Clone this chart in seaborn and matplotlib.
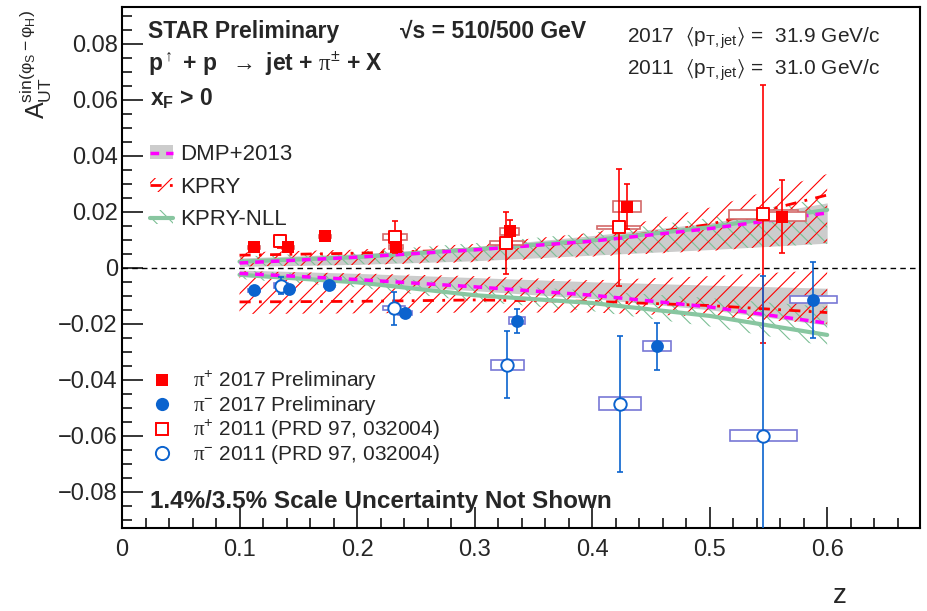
import numpy as np
import pandas as pd
import seaborn as sns
import matplotlib
matplotlib.use("Agg")
import matplotlib.pyplot as plt
from matplotlib.lines import Line2D
from matplotlib.patches import Patch
from matplotlib.ticker import MultipleLocator, FuncFormatter

# ---------------- data ----------------
# theory curves (z grid)
zt = [0.1, 0.2, 0.3, 0.4, 0.5, 0.6]
dmp_pos = [0.0017, 0.0038, 0.0064, 0.0095, 0.0140, 0.0196]
dmp_pos_lo = [0.0005, 0.0012, 0.0025, 0.0045, 0.0065, 0.0088]
dmp_pos_hi = [0.0035, 0.0050, 0.0075, 0.0115, 0.0160, 0.0232]
dmp_neg = [-0.0020, -0.0042, -0.0068, -0.0098, -0.0140, -0.0198]
dmp_neg_hi = [-0.0008, -0.0020, -0.0035, -0.0050, -0.0062, -0.0073]
dmp_neg_lo = [-0.0030, -0.0055, -0.0082, -0.0110, -0.0150, -0.0205]

kpry_pos = [0.0045, 0.0052, 0.0065, 0.0095, 0.0155, 0.0260]
kpry_pos_lo = [0.0005, 0.0010, 0.0020, 0.0040, 0.0060, 0.0090]
kpry_pos_hi = [0.0055, 0.0065, 0.0085, 0.0125, 0.0215, 0.0335]
kpry_neg = [-0.0122, -0.0120, -0.0115, -0.0120, -0.0135, -0.0160]
kpry_neg_hi = [-0.0012, -0.0020, -0.0030, -0.0045, -0.0030, -0.0008]
kpry_neg_lo = [-0.0165, -0.0163, -0.0160, -0.0160, -0.0175, -0.0200]

nll_pos = [0.0022, 0.0038, 0.0066, 0.0098, 0.0145, 0.0207]
nll_pos_lo = [0.0005, 0.0012, 0.0025, 0.0045, 0.0065, 0.0085]
nll_pos_hi = [0.0040, 0.0058, 0.0088, 0.0125, 0.0178, 0.0250]
nll_neg = [-0.0025, -0.0052, -0.0098, -0.0126, -0.0172, -0.0240]
nll_neg_hi = [-0.0010, -0.0030, -0.0058, -0.0082, -0.0108, -0.0140]
nll_neg_lo = [-0.0040, -0.0070, -0.0120, -0.0155, -0.0210, -0.0280]

# pi+ 2017 preliminary
pip17_z = [0.112, 0.141, 0.173, 0.233, 0.330, 0.430, 0.562]
pip17_a = [0.0073, 0.0073, 0.0112, 0.0073, 0.0130, 0.0219, 0.0183]
pip17_stat = [0.0010, 0.0010, 0.0012, 0.0015, 0.0040, 0.0080, 0.0130]
pip17_sysz = [0.005, 0.005, 0.005, 0.006, 0.008, 0.012, 0.020]
pip17_sysa = [0.0005, 0.0005, 0.0006, 0.0007, 0.0012, 0.0021, 0.0015]

# pi- 2017 preliminary
pim17_z = [0.112, 0.142, 0.1765, 0.241, 0.336, 0.455, 0.588]
pim17_a = [-0.0080, -0.0076, -0.0061, -0.0162, -0.0189, -0.0281, -0.0114]
pim17_stat = [0.0010, 0.0010, 0.0012, 0.0015, 0.0043, 0.0085, 0.0136]
pim17_sysz = [0.005, 0.005, 0.005, 0.006, 0.007, 0.012, 0.020]
pim17_sysa = [0.0005, 0.0005, 0.0006, 0.0007, 0.0012, 0.0018, 0.0013]

# pi+ 2011 (PRD 97, 032004)
pip11_z = [0.1345, 0.2323, 0.327, 0.4225, 0.5458]
pip11_a = [0.0094, 0.0110, 0.0088, 0.0144, 0.0192]
pip11_stat = [0.0024, 0.0058, 0.0110, 0.0210, 0.0460]
pip11_sysz = [0.005, 0.010, 0.014, 0.018, 0.029]
pip11_sysa = [0.0012, 0.0009, 0.0008, 0.0007, 0.0016]

# pi- 2011 (PRD 97, 032004)
pim11_z = [0.135, 0.2315, 0.3277, 0.424, 0.5455]
pim11_a = [-0.0064, -0.0144, -0.0346, -0.0486, -0.0600]
pim11_stat = [0.0030, 0.0059, 0.0121, 0.0243, 0.0570]
pim11_sysz = [0.006, 0.009, 0.014, 0.018, 0.0285]
pim11_sysa = [0.0010, 0.0008, 0.0018, 0.0023, 0.0020]

xticks = [0, 0.1, 0.2, 0.3, 0.4, 0.5, 0.6]
yticks = [-0.08, -0.06, -0.04, -0.02, 0, 0.02, 0.04, 0.06, 0.08]

# ---------------- style ----------------
sns.set_style("ticks")
plt.rcParams["font.family"] = ["Liberation Sans", "DejaVu Sans"]
plt.rcParams["mathtext.fontset"] = "custom"
plt.rcParams["mathtext.rm"] = "Liberation Sans"
plt.rcParams["mathtext.it"] = "Liberation Sans:italic"
plt.rcParams["mathtext.bf"] = "Liberation Sans:bold"
plt.rcParams["mathtext.sf"] = "Liberation Serif"
plt.rcParams["mathtext.fallback"] = "stix"
plt.rcParams["hatch.linewidth"] = 0.8
plt.rcParams["axes.unicode_minus"] = True

RED = "#ff0000"
BLUE = "#0b63ce"
RBOX = "#d36a6a"
BBOX = "#7878d6"
GRAY = "#cccccc"
MAG = "#ff00ff"
GREEN = "#88c6a0"
GHATCH = "#7cbf95"

W, H = 928, 611
fig = plt.figure(figsize=(W / 100, H / 100), dpi=100)
ax = fig.add_axes([122 / W, 1 - 528 / H, 798 / W, 521 / H])

def fx(x):
    return x / W

def fy(y):
    return 1 - y / H

# ---------------- theory bands ----------------
ax.fill_between(zt, dmp_pos_lo, dmp_pos_hi, color=GRAY, lw=0, zorder=1)
ax.fill_between(zt, dmp_neg_lo, dmp_neg_hi, color=GRAY, lw=0, zorder=1)
ax.fill_between(zt, nll_pos_lo, nll_pos_hi, facecolor="none", edgecolor=GHATCH,
                hatch="\\\\", lw=0, zorder=2)
ax.fill_between(zt, nll_neg_lo, nll_neg_hi, facecolor="none", edgecolor=GHATCH,
                hatch="\\\\", lw=0, zorder=2)
ax.fill_between(zt, kpry_pos_lo, kpry_pos_hi, facecolor="none", edgecolor=RED,
                hatch="//", lw=0, zorder=2)
ax.fill_between(zt, kpry_neg_lo, kpry_neg_hi, facecolor="none", edgecolor=RED,
                hatch="//", lw=0, zorder=2)

for yv in (kpry_pos, kpry_neg):
    sns.lineplot(x=zt, y=yv, ax=ax, color=RED, lw=2, errorbar=None,
                 linestyle=(0, (4, 3, 1, 3)), zorder=3)
for yv in (nll_pos, nll_neg):
    sns.lineplot(x=zt, y=yv, ax=ax, color=GREEN, lw=3, errorbar=None, zorder=3)
for yv in (dmp_pos, dmp_neg):
    sns.lineplot(x=zt, y=yv, ax=ax, color=MAG, lw=2.5, errorbar=None,
                 linestyle=(0, (2.5, 2)), zorder=4)

ax.axhline(0, color="black", lw=1.0, ls=(0, (4, 3)), zorder=2.5)

# ---------------- data ----------------
def sysbox(z, a, dz, da, col):
    z = np.asarray(z); a = np.asarray(a)
    ax.bar(z, 2 * np.asarray(da), width=2 * np.asarray(dz), bottom=a - np.asarray(da),
           facecolor="white", edgecolor=col, linewidth=1.2, zorder=5)

sysbox(pip11_z, pip11_a, pip11_sysz, pip11_sysa, RBOX)
sysbox(pim11_z, pim11_a, pim11_sysz, pim11_sysa, BBOX)
sysbox(pip17_z, pip17_a, pip17_sysz, pip17_sysa, RBOX)
sysbox(pim17_z, pim17_a, pim17_sysz, pim17_sysa, BBOX)

ekw = dict(fmt="none", elinewidth=1.2, capsize=2.5, capthick=1.2, zorder=6)
ax.errorbar(pip11_z, pip11_a, yerr=pip11_stat, ecolor=RED, **ekw)
ax.errorbar(pim11_z, pim11_a, yerr=pim11_stat, ecolor=BLUE, **ekw)
ax.errorbar(pip17_z, pip17_a, yerr=pip17_stat, ecolor=RED, **ekw)
ax.errorbar(pim17_z, pim17_a, yerr=pim17_stat, ecolor=BLUE, **ekw)

sns.scatterplot(x=pip11_z, y=pip11_a, ax=ax, marker="s", s=75, color="white",
                edgecolor=RED, linewidth=1.4, zorder=7)
sns.scatterplot(x=pim11_z, y=pim11_a, ax=ax, marker="o", s=80, color="white",
                edgecolor=BLUE, linewidth=1.4, zorder=7)
sns.scatterplot(x=pip17_z, y=pip17_a, ax=ax, marker="s", s=75, color=RED,
                edgecolor=RED, linewidth=0, zorder=8)
sns.scatterplot(x=pim17_z, y=pim17_a, ax=ax, marker="o", s=85, color=BLUE,
                edgecolor=BLUE, linewidth=0, zorder=8)

# ---------------- axes ----------------
ax.set_xlim(0, 0.679)
ax.set_ylim(-0.093, 0.0932)
ax.set_xticks(xticks)
ax.set_yticks(yticks)
ax.xaxis.set_minor_locator(MultipleLocator(0.02))
ax.yaxis.set_minor_locator(MultipleLocator(0.005))
fmt = FuncFormatter(lambda v, p: ("%g" % round(v, 3)).replace("-", "\u2212"))
ax.xaxis.set_major_formatter(fmt)
ax.yaxis.set_major_formatter(fmt)
ax.tick_params(which="both", direction="in", top=False, right=False,
               width=1.1, color="black", labelsize=17)
ax.tick_params(which="major", length=15)
ax.tick_params(which="minor", length=7.5)
ax.tick_params(axis="y", pad=3)
ax.tick_params(axis="x", pad=8)
for sp in ax.spines.values():
    sp.set_visible(True)
    sp.set_linewidth(1.5)
    sp.set_color("black")
ax.set_xlabel("")
ax.set_ylabel("")

fig.text(fx(36), fy(119), r"$\mathrm{A}_{\mathrm{UT}}^{\mathrm{sin(φ_{S}-φ_{H})}}$",
         rotation=90, ha="center", va="bottom", fontsize=18)
fig.text(fx(840), fy(603), "z", ha="center", va="baseline", fontsize=20)

# ---------------- annotations ----------------
BF = 16.5
fig.text(fx(148), fy(38), "STAR Preliminary", fontsize=BF, fontweight="bold")
fig.text(fx(400), fy(38), "\u221as = 510/500 GeV", fontsize=BF, fontweight="bold")
fig.text(fx(148), fy(71), r"p$^{\uparrow}$ + p  $\rightarrow$ jet + $\mathsf{\pi}^{\pm}$ + X",
         fontsize=BF, fontweight="bold")
fig.text(fx(150), fy(105), r"x$_{\mathbf{F}}$ > 0", fontsize=BF, fontweight="bold")
fig.text(fx(627), fy(43), r"2017  $\langle$p$_{\mathrm{T,jet}}$$\rangle$ =  31.9 GeV/c",
         fontsize=15)
fig.text(fx(627), fy(75), r"2011  $\langle$p$_{\mathrm{T,jet}}$$\rangle$ =  31.0 GeV/c",
         fontsize=15)
fig.text(fx(150), fy(508), "1.4%/3.5% Scale Uncertainty Not Shown", fontsize=17.5,
         fontweight="bold")

# ---------------- legends ----------------
th_handles = [
    (Patch(facecolor=GRAY, edgecolor="none"),
     Line2D([0], [0], color=MAG, lw=2.5, ls=(0, (2.5, 2)))),
    (Patch(facecolor="none", edgecolor=RED, hatch="//", lw=0),
     Line2D([0], [0], color=RED, lw=2, ls=(0, (4, 3, 1, 3)))),
    (Patch(facecolor="none", edgecolor=GHATCH, hatch="\\\\", lw=0),
     Line2D([0], [0], color=GREEN, lw=3)),
]
leg1 = ax.legend(th_handles, ["DMP+2013", "KPRY", "KPRY-NLL"], loc="upper left",
                 bbox_to_anchor=(fx(150), fy(144)), bbox_transform=fig.transFigure,
                 frameon=False, fontsize=16, borderpad=0, borderaxespad=0,
                 handlelength=1.05, handleheight=0.6, handletextpad=0.3,
                 labelspacing=0.52)
ax.add_artist(leg1)

dat_handles = [
    Line2D([0], [0], marker="s", ls="none", color=RED, markersize=9, markeredgewidth=0),
    Line2D([0], [0], marker="o", ls="none", color=BLUE, markersize=9.5, markeredgewidth=0),
    Line2D([0], [0], marker="s", ls="none", markerfacecolor="white", markeredgecolor=RED,
           markersize=9, markeredgewidth=1.4),
    Line2D([0], [0], marker="o", ls="none", markerfacecolor="white", markeredgecolor=BLUE,
           markersize=9.5, markeredgewidth=1.4),
]
dat_labels = [r"$\mathsf{\pi}^{+}$ 2017 Preliminary", r"$\mathsf{\pi}^{-}$ 2017 Preliminary",
              r"$\mathsf{\pi}^{+}$ 2011 (PRD 97, 032004)", r"$\mathsf{\pi}^{-}$ 2011 (PRD 97, 032004)"]
ax.legend(dat_handles, dat_labels, loc="upper left",
          bbox_to_anchor=(fx(150), fy(369)), bbox_transform=fig.transFigure,
          frameon=False, fontsize=15, borderpad=0, borderaxespad=0,
          handlelength=1.2, handletextpad=0.85, labelspacing=0.05)

fig.savefig("out.png", dpi=100)
